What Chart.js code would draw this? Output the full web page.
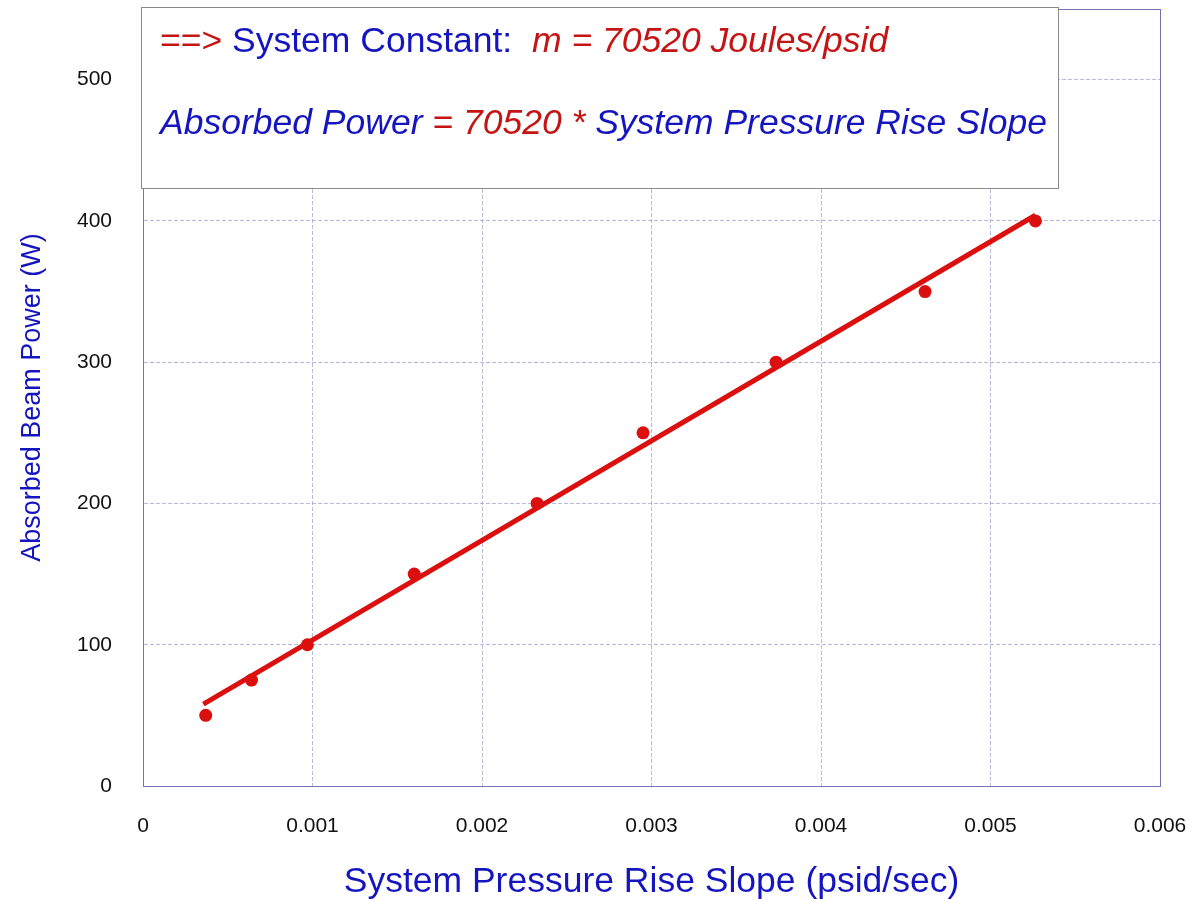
<!DOCTYPE html>
<html>
<head>
<meta charset="utf-8">
<script src="https://cdn.jsdelivr.net/npm/chart.js@4.4.1/dist/chart.umd.min.js"></script>
<style>
  html, body { margin: 0; padding: 0; background: #fff; }
  #wrap { width: 1192px; height: 900px; }
</style>
</head>
<body>
<div id="wrap"><canvas id="chart" width="1192" height="900"></canvas></div>
<script>
// measured points (psid/sec vs W)
const slopeValues = [0.00037, 0.00064, 0.00097, 0.0016, 0.002325, 0.00295, 0.003735, 0.004614, 0.005265];
const powerValues = [50, 75, 100, 150, 200, 250, 300, 350, 400];

// linear fit line, end points
const fitSlope = [0.000356, 0.005265];
const fitPower = [58, 404];

const xTicks = [0, 0.001, 0.002, 0.003, 0.004, 0.005, 0.006];
const xTickLabels = ['0', '0.001', '0.002', '0.003', '0.004', '0.005', '0.006'];
const yTicks = [0, 100, 200, 300, 400, 500];

const red = '#c41414';
const blue = '#1515c0';
const lineRed = '#dc0f0f';
const axisColor = '#7373b3';
const gridColor = 'rgba(140,140,200,0.6)';
const fontFamily = '"Liberation Sans", Arial, sans-serif';

// box with the system constant text, drawn on top of the plot
const noteBox = {
  id: 'noteBox',
  afterDraw(chart) {
    const ctx = chart.ctx;
    ctx.save();
    ctx.fillStyle = '#fff';
    ctx.fillRect(141, 7, 917, 181);
    ctx.strokeStyle = '#8a8a8a';
    ctx.lineWidth = 1;
    ctx.strokeRect(141.5, 7.5, 917, 181);

    const lines = [
      { y: 52, parts: [
        ['==> ', red, 'normal'],
        ['System Constant:  ', blue, 'normal'],
        ['m = 70520 Joules/psid', red, 'italic']
      ]},
      { y: 134, parts: [
        ['Absorbed Power ', blue, 'italic'],
        ['= 70520 * ', red, 'italic'],
        ['System Pressure Rise Slope', blue, 'italic']
      ]}
    ];
    ctx.textBaseline = 'alphabetic';
    ctx.textAlign = 'left';
    lines.forEach(function(line) {
      let x = 160;
      line.parts.forEach(function(p) {
        ctx.font = p[2] + ' 35.5px ' + fontFamily;
        ctx.fillStyle = p[1];
        ctx.fillText(p[0], x, line.y);
        x += ctx.measureText(p[0]).width;
      });
    });
    ctx.restore();
  }
};

// right and top edges of the plot frame
const frame = {
  id: 'frame',
  beforeDatasetsDraw(chart) {
    const a = chart.chartArea;
    const ctx = chart.ctx;
    ctx.save();
    ctx.strokeStyle = axisColor;
    ctx.lineWidth = 1;
    ctx.strokeRect(Math.round(a.left) + 0.5, Math.round(a.top) + 0.5,
      Math.round(a.right - a.left), Math.round(a.bottom - a.top));
    ctx.restore();
  }
};

const tickFont = { family: fontFamily, size: 21 };

new Chart(document.getElementById('chart'), {
  type: 'scatter',
  data: {
    datasets: [
      {
        label: 'Fit',
        data: fitSlope.map((x, i) => ({ x: x, y: fitPower[i] })),
        showLine: true,
        borderColor: lineRed,
        borderWidth: 5,
        pointRadius: 0,
        order: 2
      },
      {
        label: 'Measured',
        data: slopeValues.map((x, i) => ({ x: x, y: powerValues[i] })),
        backgroundColor: lineRed,
        borderColor: lineRed,
        pointRadius: 6.5,
        pointBorderWidth: 0,
        order: 1
      }
    ]
  },
  options: {
    responsive: false,
    animation: false,
    layout: { padding: { top: 9, right: 32, left: 0, bottom: 0 } },
    plugins: {
      legend: { display: false },
      tooltip: { enabled: false }
    },
    scales: {
      x: {
        type: 'linear',
        min: 0,
        max: 0.006,
        afterBuildTicks: function(scale) {
          scale.ticks = xTicks.map(v => ({ value: v }));
        },
        afterFit: function(scale) {
          scale.height = 114;
          scale.paddingLeft = 0;
          scale.paddingRight = 0;
        },
        ticks: {
          color: '#111',
          font: tickFont,
          padding: 28,
          maxRotation: 0,
          callback: function(value, index) { return xTickLabels[index]; }
        },
        grid: { color: gridColor, drawTicks: false, lineWidth: 1 },
        border: { color: axisColor, width: 1, dash: [4, 2] },
        title: {
          display: true,
          text: 'System Pressure Rise Slope (psid/sec)',
          color: blue,
          font: { family: fontFamily, size: 35.5 },
          padding: { top: 0, bottom: -4 }
        }
      },
      y: {
        type: 'linear',
        min: 0,
        max: 550,
        afterBuildTicks: function(scale) {
          scale.ticks = yTicks.map(v => ({ value: v }));
        },
        afterFit: function(scale) {
          scale.width = 143;
          scale.paddingTop = 0;
          scale.paddingBottom = 0;
        },
        ticks: {
          color: '#111',
          font: tickFont,
          padding: 31
        },
        grid: { color: gridColor, drawTicks: false, lineWidth: 1 },
        border: { color: axisColor, width: 1, dash: [4, 2] },
        title: {
          display: true,
          text: 'Absorbed Beam Power (W)',
          color: blue,
          font: { family: fontFamily, size: 27 },
          padding: { top: 16, bottom: 0 }
        }
      }
    }
  },
  plugins: [frame, noteBox]
});
</script>
</body>
</html>
